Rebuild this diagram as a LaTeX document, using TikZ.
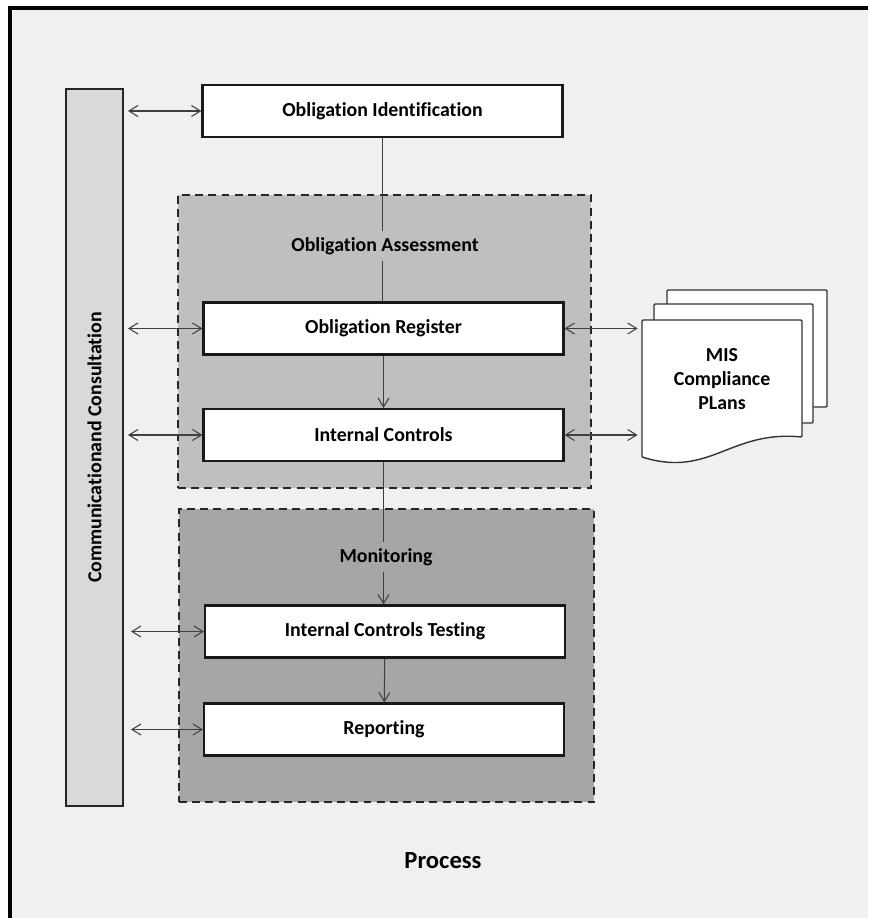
\documentclass[tikz,border=0pt]{standalone}
\usepackage{fontspec}
\setmainfont{Carlito}[Ligatures=NoCommon]
\usetikzlibrary{arrows.meta}

\begin{document}
\begin{tikzpicture}[x=0.2mm, y=-0.2mm, font=\fontsize{11.3}{13.5}\selectfont\bfseries,
  procbox/.style={draw=black!90, fill=white, line width=1.2pt, minimum width=72mm, minimum height=10.4mm, inner sep=0pt},
  zone/.style={draw=black!85, line width=1.2pt, dash pattern=on 4.5pt off 3pt, minimum width=83mm, minimum height=58.6mm},
  link/.style={draw=black!75, line width=0.6pt},
  biarrow/.style={link, {Straight Barb[length=1.8mm,width=2.2mm]}-{Straight Barb[length=1.8mm,width=2.2mm]}},
  flowarrow/.style={link, -{Straight Barb[length=1.8mm,width=2.2mm]}},
  page/.style={draw=black!80, fill=white, line width=0.8pt, rounded corners=0.6pt}]
\useasboundingbox (0,0) rectangle (868,918);
\fill[white] (0,0) rectangle (868,918);
\fill[black!6] (10,8) rectangle (868,918);
\draw[line width=1.8pt] (10,918) -- (10,8) -- (868,8);

\node[zone, fill=black!25, minimum width=82.6mm] (assess) at (384.5,341.5) {};
\node[zone, fill=black!35] (monitor) at (386.5,655.5) {};

\node[draw=black!85, fill=black!15, line width=1.1pt, minimum width=11.4mm, minimum height=143.4mm] (bar) at (94.5,447.5) {};
\node[rotate=90] (barlab) at (bar.center) {Communicationand Consultation};

\node[procbox] (ident) at (382.5,111) {Obligation Identification};
\node[procbox] (reg) at (383.5,328.5) {Obligation Register};
\node[procbox] (ictl) at (383.5,435) {Internal Controls};
\node[procbox] (test) at (385,631.5) {Internal Controls Testing};
\node[procbox] (rep) at (384,729.5) {Reporting};
\node (asslab) at (385,246) {Obligation Assessment};
\node (monlab) at (386,557) {Monitoring};
\node[font=\fontsize{14}{16}\selectfont\bfseries] (proc) at (443,861) {Process};

\draw[link] (ident.south) -- (ident.south |- asslab.north);
\draw[link] (ident.south |- asslab.south) -- (ident.south |- reg.north);
\draw[flowarrow] (reg) -- (ictl);
\draw[link] (ictl.south) -- (ictl.south |- monlab.north);
\draw[flowarrow] (ictl.south |- monlab.south) -- (ictl.south |- test.north);
\draw[flowarrow] (test) -- (rep);

\draw[biarrow, shorten <=0.8mm] (bar.east |- ident.west) -- (ident.west);
\draw[biarrow, shorten <=0.8mm] (bar.east |- reg.west) -- (reg.west);
\draw[biarrow, shorten <=0.8mm] (bar.east |- ictl.west) -- (ictl.west);
\draw[biarrow, shorten <=1.4mm] (bar.east |- test.west) -- (test.west);
\draw[biarrow, shorten <=1.4mm] (bar.east |- rep.west) -- (rep.west);

\filldraw[page] (667,290) rectangle (827,407);
\filldraw[page] (654,304) rectangle (813,423);
\filldraw[page] (642,320) -- (802,320) -- (802,437) .. controls (730,430) and (710,478) .. (642,457) -- cycle;
\node[minimum width=32mm, minimum height=28mm, inner sep=0pt] (mis) at (722,390) {};
\node[align=center] (mislab) at (722,379) {MIS\\Compliance\\PLans};

\draw[biarrow, shorten >=0.8mm] (reg.east) -- (mis.west |- reg.east);
\draw[biarrow, shorten >=0.8mm] (ictl.east) -- (mis.west |- ictl.east);
\end{tikzpicture}
\end{document}
